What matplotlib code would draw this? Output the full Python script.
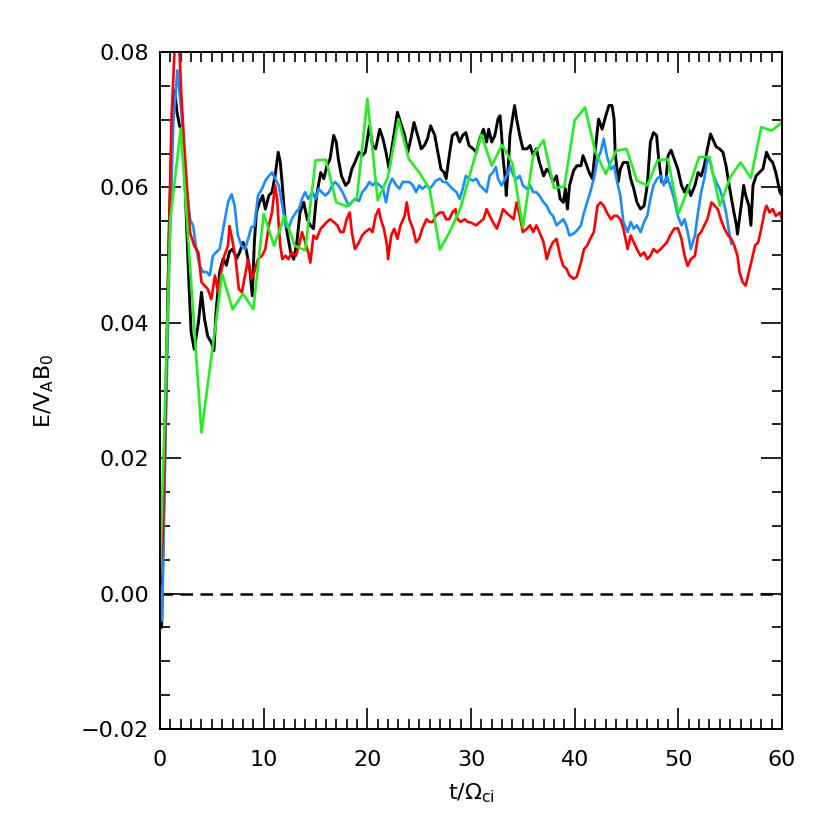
import matplotlib
matplotlib.use("Agg")
import matplotlib.pyplot as plt
from matplotlib.ticker import MultipleLocator

# black curve
black_t = [0.0, 0.15, 0.5, 0.9, 1.2, 1.4, 1.65, 1.9, 2.1, 2.4, 2.7, 3.0, 3.3, 3.7, 4.0, 4.3, 4.6, 4.95,
           5.2, 5.4, 5.75, 6.1, 6.4, 6.7, 7.0, 7.4, 7.7, 8.0, 8.3, 8.65, 8.9, 9.1, 9.3, 9.6, 9.9,
           10.16, 10.5, 10.8, 11.1, 11.4, 11.6, 11.8, 12.0, 12.25, 12.6, 12.9, 13.2, 13.5, 13.86,
           14.2, 14.5, 14.8, 15.1, 15.5, 15.8, 16.1, 16.4, 16.75, 17.0, 17.2, 17.5, 17.9, 18.2,
           18.5, 18.8, 19.2, 19.5, 19.8, 20.2, 20.5, 20.8, 21.2, 21.5, 21.8, 22.1, 22.3, 22.6,
           22.9, 23.2, 23.6, 23.9, 24.2, 24.5, 24.85, 25.2, 25.5, 25.8, 26.1, 26.5, 26.8, 27.1,
           27.4, 27.6, 27.9, 28.2, 28.6, 28.9, 29.2, 29.5, 29.8, 30.2, 30.5, 30.85, 31.2, 31.5,
           31.7, 32.0, 32.3, 32.6, 32.8, 32.95, 33.1, 33.3, 33.4, 33.6, 33.75, 34.0, 34.2, 34.4,
           34.7, 35.0, 35.4, 35.7, 36.0, 36.3, 36.6, 37.0, 37.3, 37.6, 37.9, 38.25, 38.6, 38.9,
           39.1, 39.3, 39.5, 39.9, 40.2, 40.6, 40.8, 41.05, 41.4, 41.7, 42.0, 42.3, 42.65, 43.0,
           43.3, 43.6, 43.8, 43.9, 44.2, 44.4, 44.7, 45.1, 45.4, 45.7, 46.0, 46.35, 46.7, 47.0,
           47.3, 47.6, 47.9, 48.1, 48.4, 48.8, 49.0, 49.3, 49.6, 49.95, 50.3, 50.6, 50.9, 51.2,
           51.6, 51.9, 52.2, 52.5, 52.8, 53.1, 53.3, 53.65, 53.97, 54.3, 54.6, 54.9, 55.3, 55.6,
           55.7, 56.1, 56.3, 56.5, 56.8, 57.0, 57.2, 57.5, 57.8, 58.15, 58.5, 58.8, 59.1, 59.4,
           59.8, 60.0]
black_e = [0.001, -0.005, 0.025, 0.055, 0.070, 0.0743, 0.071, 0.069, 0.0689, 0.0613, 0.0489, 0.0386,
           0.0361, 0.040, 0.0445, 0.0405, 0.038, 0.0371, 0.0359, 0.0416, 0.0475, 0.0495, 0.0485,
           0.0505, 0.0509, 0.0495, 0.0505, 0.0519, 0.0509, 0.048, 0.044, 0.0519, 0.0563, 0.0578,
           0.0588, 0.0568, 0.0588, 0.0593, 0.0617, 0.0652, 0.0637, 0.0603, 0.0563, 0.0534, 0.0504,
           0.0494, 0.0519, 0.0563, 0.0578, 0.0553, 0.0544, 0.0539, 0.0588, 0.0622, 0.0613, 0.0632,
           0.0642, 0.0677, 0.0667, 0.0642, 0.0617, 0.0603, 0.0608, 0.0627, 0.0637, 0.0652, 0.0647,
           0.0652, 0.0691, 0.0662, 0.0657, 0.0686, 0.0672, 0.0652, 0.0627, 0.0652, 0.0681, 0.0711,
           0.0696, 0.0677, 0.0652, 0.0672, 0.0696, 0.0677, 0.0657, 0.0662, 0.0672, 0.0691, 0.0677,
           0.0652, 0.0627, 0.0622, 0.0613, 0.0647, 0.0677, 0.0681, 0.0667, 0.0677, 0.0681, 0.0662,
           0.0657, 0.0652, 0.0672, 0.0686, 0.0667, 0.0686, 0.0667, 0.0677, 0.0701, 0.0706, 0.0677,
           0.0642, 0.0613, 0.0588, 0.0632, 0.0677, 0.0701, 0.0721, 0.0701, 0.0677, 0.0657, 0.0657,
           0.0662, 0.0647, 0.0657, 0.0637, 0.0617, 0.0627, 0.0622, 0.0608, 0.0617, 0.0583, 0.0578,
           0.0598, 0.0568, 0.0603, 0.0625, 0.0632, 0.0632, 0.0647, 0.0637, 0.0622, 0.0613, 0.0657,
           0.0701, 0.0686, 0.0706, 0.0721, 0.0721, 0.0701, 0.0652, 0.0608, 0.0627, 0.0637, 0.0637,
           0.0613, 0.0598, 0.0578, 0.0568, 0.0573, 0.0603, 0.0667, 0.0681, 0.0677, 0.0642, 0.0608,
           0.0608, 0.0647, 0.0655, 0.0642, 0.0627, 0.0603, 0.0593, 0.0603, 0.0588, 0.0603, 0.0622,
           0.0617, 0.0632, 0.0657, 0.0679, 0.0672, 0.066, 0.0657, 0.0652, 0.0632, 0.0603, 0.0568,
           0.0544, 0.0531, 0.0578, 0.0603, 0.0588, 0.0573, 0.0544, 0.0603, 0.0617, 0.0622, 0.0627,
           0.0652, 0.0642, 0.0637, 0.0622, 0.0593, 0.0588]

# blue curve (stops near t=55)
blue_t = [0.0, 0.2, 0.5, 0.9, 1.3, 1.67, 2.06, 2.4, 2.9, 3.2, 3.5, 3.8, 4.15, 4.5, 4.8, 5.1, 5.4, 5.75,
          6.2, 6.56, 6.9, 7.2, 7.5, 7.85, 8.2, 8.5, 8.8, 9.1, 9.45, 9.84, 10.16, 10.5, 10.8, 11.1,
          11.45, 11.8, 12.1, 12.4, 12.7, 13.1, 13.4, 13.7, 14.0, 14.3, 14.7, 15.0, 15.3, 15.6,
          15.95, 16.3, 16.6, 16.9, 17.2, 17.6, 17.9, 18.2, 18.5, 18.8, 19.2, 19.5, 19.8, 20.2,
          20.5, 20.8, 21.2, 21.5, 21.8, 22.1, 22.4, 22.8, 23.1, 23.4, 23.7, 24.05, 24.4, 24.7,
          25.0, 25.3, 25.7, 26.0, 26.3, 26.6, 27.0, 27.3, 27.6, 27.9, 28.2, 28.6, 28.9, 29.2,
          29.5, 29.8, 30.2, 30.5, 30.85, 31.2, 31.5, 31.8, 32.1, 32.4, 32.6, 32.95, 33.3, 33.6,
          33.75, 34.1, 34.4, 34.7, 35.0, 35.4, 35.7, 36.0, 36.3, 36.6, 37.0, 37.3, 37.6, 37.9,
          38.25, 38.6, 38.9, 39.2, 39.5, 39.9, 40.2, 40.6, 40.9, 41.2, 41.5, 41.85, 42.2, 42.5,
          42.8, 43.1, 43.5, 43.8, 44.1, 44.4, 44.7, 45.1, 45.4, 45.7, 46.0, 46.35, 46.7, 47.0,
          47.3, 47.6, 47.96, 48.3, 48.6, 48.9, 49.2, 49.6, 49.95, 50.3, 50.6, 50.9, 51.2, 51.6,
          51.9, 52.2, 52.5, 52.8, 53.1, 53.3, 53.65, 53.97, 54.3, 54.6, 54.9, 55.1]
blue_e = [0.001, -0.004, 0.020, 0.050, 0.070, 0.0773, 0.0711, 0.0622, 0.0553, 0.0543, 0.0509, 0.0485,
          0.0475, 0.0475, 0.047, 0.0499, 0.0504, 0.0509, 0.0548, 0.0578, 0.059, 0.0573, 0.053,
          0.0514, 0.0509, 0.0524, 0.0541, 0.0543, 0.0588, 0.0598, 0.061, 0.0617, 0.0622, 0.0613,
          0.0603, 0.0573, 0.0544, 0.0539, 0.0553, 0.0563, 0.0568, 0.0583, 0.0593, 0.0583, 0.0593,
          0.0583, 0.0598, 0.0593, 0.0588, 0.0593, 0.0603, 0.0608, 0.0603, 0.0593, 0.0583, 0.0573,
          0.0578, 0.0583, 0.058, 0.0593, 0.0598, 0.0608, 0.0603, 0.0608, 0.0603, 0.0598, 0.0578,
          0.0603, 0.0613, 0.0603, 0.0598, 0.0608, 0.0608, 0.0608, 0.0603, 0.0593, 0.0603, 0.0598,
          0.0603, 0.0598, 0.0603, 0.061, 0.0613, 0.0608, 0.0608, 0.0603, 0.0598, 0.0593, 0.0583,
          0.0598, 0.0617, 0.0613, 0.061, 0.0613, 0.0603, 0.0598, 0.0593, 0.0617, 0.0622, 0.063,
          0.0613, 0.0603, 0.0613, 0.0622, 0.0632, 0.0617, 0.0613, 0.0617, 0.0603, 0.0598, 0.0603,
          0.0593, 0.0593, 0.0588, 0.0578, 0.0573, 0.0563, 0.0558, 0.0544, 0.0549, 0.0553, 0.0544,
          0.0529, 0.0532, 0.0536, 0.0544, 0.0563, 0.0578, 0.0593, 0.0613, 0.0642, 0.0652, 0.0672,
          0.0647, 0.0627, 0.0632, 0.0608, 0.0588, 0.0549, 0.0534, 0.0549, 0.0539, 0.0544, 0.0534,
          0.0549, 0.0558, 0.0583, 0.0603, 0.0613, 0.0617, 0.0603, 0.0617, 0.0603, 0.0583, 0.0558,
          0.0544, 0.0553, 0.0534, 0.0509, 0.0529, 0.0563, 0.0593, 0.0613, 0.0642, 0.0637, 0.0622,
          0.0608, 0.0598, 0.0583, 0.0563, 0.0534, 0.0517]

# red curve
red_t = [0.0, 0.3, 0.7, 1.1, 1.4, 1.65, 1.85, 2.06, 2.4, 2.9, 3.3, 3.7, 4.0, 4.3, 4.6, 4.95, 5.3, 5.6,
         5.9, 6.2, 6.56, 6.7, 6.95, 7.3, 7.6, 7.9, 8.2, 8.5, 8.8, 9.1, 9.45, 9.84, 10.16, 10.5, 10.8,
         11.1, 11.3, 11.45, 11.6, 11.8, 12.1, 12.4, 12.7, 13.1, 13.4, 13.7, 14.0, 14.3, 14.5, 14.8,
         15.1, 15.5, 15.8, 16.1, 16.4, 16.75, 17.1, 17.4, 17.7, 18.0, 18.3, 18.5, 18.8, 19.2, 19.5,
         19.8, 20.2, 20.5, 20.8, 21.1, 21.3, 21.6, 21.9, 22.0, 22.3, 22.6, 22.9, 23.2, 23.6, 23.8,
         24.05, 24.4, 24.7, 25.0, 25.3, 25.7, 26.0, 26.3, 26.6, 27.0, 27.3, 27.6, 27.9, 28.2, 28.5,
         28.7, 29.0, 29.4, 29.7, 30.0, 30.5, 30.85, 31.2, 31.5, 31.8, 32.1, 32.5, 32.8, 33.1, 33.4,
         33.75, 34.1, 34.4, 34.7, 35.0, 35.4, 35.7, 36.0, 36.3, 36.6, 37.0, 37.3, 37.6, 37.9, 38.25,
         38.6, 38.9, 39.2, 39.5, 39.9, 40.2, 40.6, 40.9, 41.2, 41.5, 41.85, 42.2, 42.5, 42.8, 43.1,
         43.5, 43.8, 44.1, 44.4, 44.7, 45.1, 45.4, 45.7, 46.0, 46.35, 46.7, 47.0, 47.3, 47.6, 47.96,
         48.3, 48.6, 48.9, 49.2, 49.6, 49.95, 50.3, 50.6, 50.9, 51.2, 51.6, 51.9, 52.2, 52.5, 52.8,
         53.2, 53.5, 53.8, 54.1, 54.45, 54.8, 55.1, 55.4, 55.7, 55.9, 56.2, 56.5, 56.8, 57.1, 57.4,
         57.7, 58.0, 58.3, 58.5, 58.8, 59.1, 59.4, 59.8, 60.0]
red_e = [0.002, 0.010, 0.040, 0.070, 0.080, 0.083, 0.081, 0.0736, 0.0647, 0.0533, 0.0514, 0.0504, 0.046,
         0.0455, 0.045, 0.0435, 0.047, 0.0445, 0.0475, 0.0499, 0.0514, 0.0543, 0.0524, 0.0494, 0.045,
         0.0445, 0.047, 0.0494, 0.0465, 0.0475, 0.0494, 0.0499, 0.0509, 0.0544, 0.0563, 0.0603,
         0.0583, 0.0544, 0.0514, 0.0494, 0.0499, 0.0494, 0.0504, 0.0499, 0.0514, 0.0534, 0.0519,
         0.0504, 0.0489, 0.0529, 0.0524, 0.0539, 0.0544, 0.0549, 0.0553, 0.0549, 0.0544, 0.0534,
         0.0534, 0.0553, 0.0563, 0.0534, 0.0509, 0.0519, 0.0529, 0.0534, 0.0539, 0.0534, 0.0558,
         0.0568, 0.0553, 0.0539, 0.0514, 0.0494, 0.0529, 0.0539, 0.0524, 0.0544, 0.0558, 0.0578,
         0.0553, 0.0539, 0.0519, 0.0524, 0.0539, 0.0553, 0.0549, 0.0549, 0.0558, 0.0563, 0.0563,
         0.0553, 0.0553, 0.0563, 0.0568, 0.0553, 0.0549, 0.0553, 0.0549, 0.0548, 0.0544, 0.0549,
         0.0553, 0.0568, 0.0558, 0.0549, 0.0539, 0.0553, 0.0568, 0.0563, 0.0558, 0.0553, 0.0578,
         0.0558, 0.0534, 0.0539, 0.0544, 0.0534, 0.0544, 0.0534, 0.0519, 0.0494, 0.0509, 0.0519,
         0.0524, 0.0499, 0.0484, 0.048, 0.047, 0.0465, 0.0468, 0.0489, 0.0509, 0.0514, 0.0524,
         0.0534, 0.0573, 0.0578, 0.0573, 0.0563, 0.0553, 0.0558, 0.0558, 0.0553, 0.0539, 0.0509,
         0.0529, 0.0519, 0.0509, 0.0499, 0.0504, 0.0494, 0.0499, 0.0509, 0.0504, 0.0509, 0.0514,
         0.0519, 0.0529, 0.0539, 0.054, 0.0524, 0.0499, 0.0484, 0.0494, 0.0499, 0.0529, 0.0534,
         0.0544, 0.0553, 0.0578, 0.0573, 0.0568, 0.0553, 0.0539, 0.0529, 0.0524, 0.0514, 0.0499,
         0.0475, 0.046, 0.0455, 0.0475, 0.0494, 0.0514, 0.0519, 0.0539, 0.0563, 0.0573, 0.0563,
         0.0568, 0.0558, 0.0563, 0.0553]

# green curve, one sample per unit of t
green_t = list(range(0, 61))
green_e = [0.003, 0.0554, 0.0687, 0.046, 0.0238, 0.0355, 0.0472, 0.042, 0.0443, 0.042,
           0.0561, 0.0514, 0.0558, 0.0514, 0.0507, 0.064, 0.0641, 0.0578, 0.0572, 0.0585,
           0.0731, 0.0581, 0.0616, 0.0701, 0.0642, 0.0622, 0.0598, 0.0508, 0.0536, 0.057,
           0.0625, 0.0678, 0.0632, 0.0663, 0.0635, 0.0541, 0.0648, 0.067, 0.0599, 0.0601,
           0.0699, 0.0718, 0.0652, 0.062, 0.0654, 0.0657, 0.061, 0.0603, 0.064, 0.0642,
           0.0561, 0.06, 0.0645, 0.0645, 0.0573, 0.0615, 0.0637, 0.0614, 0.0689, 0.0684,
           0.0696]

fig = plt.figure(figsize=(8.3, 8.3), dpi=100)
ax = fig.add_axes([0.1928, 0.1217, 0.7494, 0.8156])

ax.axhline(0.0, color="black", lw=1.8, ls=(0, (5, 3)))
ax.plot(black_t, black_e, color="black", lw=2.1)
ax.plot(blue_t, blue_e, color="#1a8cff", lw=1.9)
ax.plot(red_t, red_e, color="#ff0000", lw=1.9)
ax.plot(green_t, green_e, color="#22ee22", lw=1.9)

ax.set_xlim(0, 60)
ax.set_ylim(-0.02, 0.08)
ax.xaxis.set_major_locator(MultipleLocator(10))
ax.xaxis.set_minor_locator(MultipleLocator(1))
ax.yaxis.set_major_locator(MultipleLocator(0.02))
ax.yaxis.set_minor_locator(MultipleLocator(0.005))
ax.set_yticklabels(["\u22120.02" if v < -0.001 else f"{v:.2f}" for v in ax.get_yticks()])
ax.tick_params(which="both", direction="in", top=True, right=True, width=1.2, labelsize=16)
ax.tick_params(which="major", length=15)
ax.tick_params(which="minor", length=7)
ax.tick_params(axis="x", which="major", pad=15)
ax.tick_params(axis="y", which="major", pad=8)
for s in ax.spines.values():
    s.set_linewidth(1.4)

ax.set_xlabel(r"t/$\Omega_{\rm ci}$", fontsize=16, labelpad=8)
ax.set_ylabel(r"E/V$_{\rm A}$B$_0$", fontsize=16, labelpad=18)

fig.savefig("out.png", dpi=100)
